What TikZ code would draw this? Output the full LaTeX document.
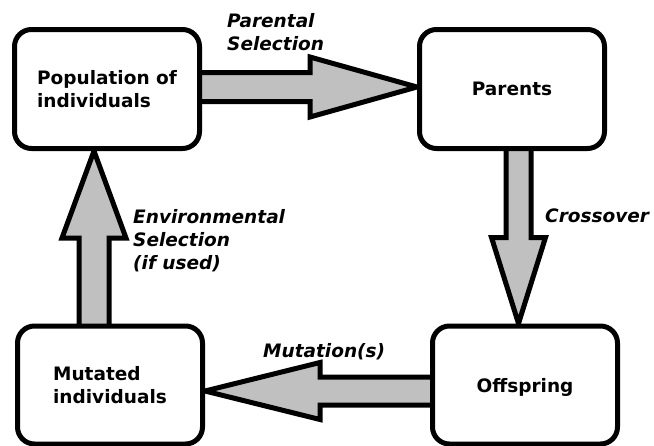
\documentclass[tikz,border=0pt]{standalone}
\usepackage{fontspec}
\setmainfont{DejaVu Sans}
\usetikzlibrary{calc}
\pgfdeclarelayer{bg}
\pgfsetlayers{bg,main}
\definecolor{arrowgray}{RGB}{192,192,192}
\tikzset{
  box/.style={draw=black, fill=white, line width=5pt, rounded corners=17pt,
    minimum width=185pt, minimum height=119pt, inner sep=0pt, align=left,
    font=\fontsize{18.5}{23}\selectfont\bfseries},
  lbl/.style={inner sep=0pt, align=left, font=\fontsize{18.5}{23}\selectfont\bfseries\itshape},
  blockarr/.style={draw=black, fill=arrowgray, line width=5pt, line join=miter, miter limit=20}
}
% #1 start, #2 tip, #3 shaft half width, #4 head half width, #5 head length
\newcommand\blockarrow[5]{%
  \path (#1) coordinate (ba-s0) (#2) coordinate (ba-e);
  \path ($(ba-s0)!-8pt!(ba-e)$) coordinate (ba-s);
  \path ($(ba-e)!#5!(ba-s)$) coordinate (ba-h);
  \draw[blockarr]
    ($(ba-s)!#3!90:(ba-e)$) -- ($(ba-h)!#3!90:(ba-e)$) -- ($(ba-h)!#4!90:(ba-e)$)
    -- (ba-e)
    -- ($(ba-h)!#4!-90:(ba-e)$) -- ($(ba-h)!#3!-90:(ba-e)$) -- ($(ba-s)!#3!-90:(ba-e)$)
    -- cycle;
}
\begin{document}
\begin{tikzpicture}[x=1pt, y=-1pt]
  \useasboundingbox (0,0) rectangle (654,445);
  \node[box] (pop) at (107,89) {Population of\\individuals};
  \node[box] (par) at (512,89) {Parents};
  \node[box, minimum height=118pt, text depth=0pt] (off) at (525,385) {Offspring};
  \node[box, minimum height=118pt] (mut) at (110,385) {Mutated\\individuals};

  \coordinate (c2) at ($(par.south)!0.5!(off.north)$);
  \coordinate (s1) at ([yshift=2pt]pop.east);
  \coordinate (s3) at ([yshift=-6pt]off.west);
  \coordinate (s4) at ([xshift=-16pt]mut.north);

  \begin{pgfonlayer}{bg}
    \blockarrow{s1}{par.west |- s1}{14.5pt}{30pt}{107pt}
    \blockarrow{par.south -| c2}{off.north -| c2}{12.5pt}{27pt}{86pt}
    \blockarrow{s3}{mut.east |- s3}{14pt}{28.5pt}{115pt}
    \blockarrow{s4}{pop.south -| s4}{15pt}{32pt}{87pt}
  \end{pgfonlayer}

  \node[lbl, anchor=north west] (lpar) at (227,13) {Parental\\Selection};
  \node[lbl, anchor=base west] (lcro) at (545,222) {Crossover};
  \node[lbl, anchor=base west] (lmut) at (263,357) {Mutation(s)};
  \node[lbl, anchor=north west] (lenv) at (133,209) {Environmental\\Selection\\(if used)};
\end{tikzpicture}
\end{document}
